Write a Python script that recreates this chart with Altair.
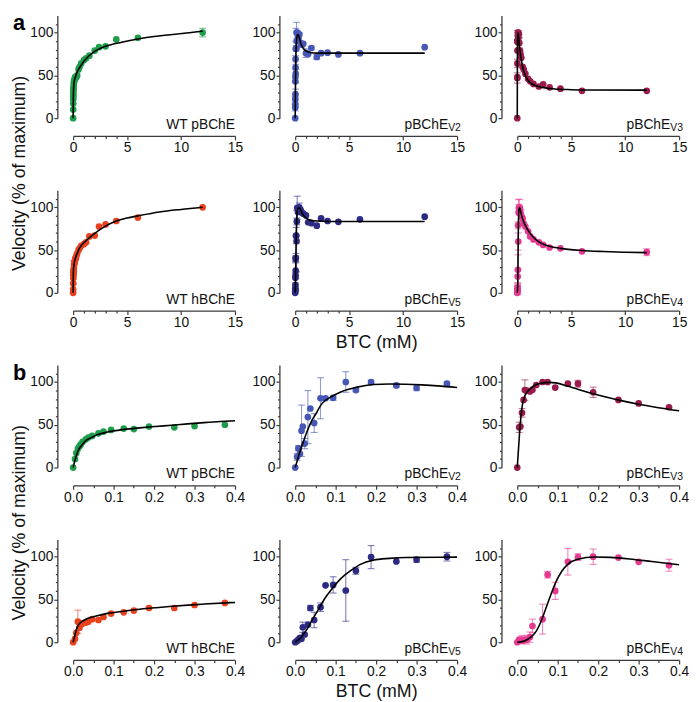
import altair as alt
import pandas as pd

FONT = "Liberation Sans"
W, H = 164, 104

# ---------------- substrate concentrations (mM) ----------------
CONC_LOW = [0, 0.0047, 0.0078, 0.0117, 0.0156, 0.0188, 0.0234, 0.0313, 0.0375, 0.0469,
            0.0625, 0.075, 0.0938, 0.125, 0.15, 0.1875, 0.25, 0.3, 0.375]
CONC_HIGH = [0.5, 0.6, 0.75, 1.0, 1.2, 1.5, 2.0, 2.4, 3.0, 4.0, 6.0, 12.0]

# ---------------- velocities (% of maximum) ----------------
WTP_LOW = [0, 10, 17, 22, 25, 27, 30, 33, 35, 37, 40, 42, 44, 45.5, 45, 48, 47, 48.5, 50]
WTP_LOW_ERR = [0] * 19
WTP_HIGH = [57, 60, 64, 68, 70, 73, 79, 83, 84, 92, 94, 100]
WTP_HIGH_ERR = [0, 0, 0, 0, 0, 0, 0, 0, 0, 0, 0, 5]

V2_LOW = [0, 12.5, 22.5, 16, 43, 48, 28, 59, 69, 52, 81, 81, 81.5, 100, 90.5, 100, 96, 93, 98]
V2_LOW_ERR = [0, 4, 3, 0, 30, 0, 6, 31, 0, 11, 24, 0, 3, 12, 2, 2, 2, 3, 2]
V2_HIGH = [88, 86, 87, 76, 75, 82, 71.5, 76, 76.5, 74.5, 76, 83]
V2_HIGH_ERR = [0, 3, 0, 5, 0, 2, 3, 0, 0, 0, 0, 0]

V3_LOW = [0, 47, 48, 64, 79, 90.5, 90, 89, 91, 96.5, 100, 100, 93.5, 98, 98, 88, 79, 75, 70.5]
V3_LOW_ERR = [0, 6, 0, 5, 0, 12, 0, 0, 0, 0, 0, 0, 0, 0, 4, 6, 0, 0, 0]
V3_HIGH = [60, 57, 52, 46, 43, 40, 37, 39.5, 36, 34.5, 32, 32]
V3_HIGH_ERR = [0] * 12

WTH_LOW = [0, 4, 11, 24, 17, 20.5, 22, 23, 24, 27, 26, 29.5, 33.5, 35, 37, 40, 40, 43.5, 46]
WTH_LOW_ERR = [0, 0, 0, 13.5, 0, 0, 0, 0, 0, 0, 0, 0, 0, 0, 0, 0, 0, 0, 0]
WTH_HIGH = [50, 52, 55, 57, 59, 66, 67, 77.5, 80, 84, 88, 100]
WTH_HIGH_ERR = [0] * 12

V5_LOW = [0, 1.5, 3, 5, 4, 17.5, 9, 20.5, 40, 26, 41, 66.5, 67, 60.5, 83.5, 99.5, 94.5, 96.5, 100]
V5_LOW_ERR = [0, 0, 0, 0, 0, 6, 0, 0, 3, 9, 5, 0, 9.5, 36, 4, 13.5, 0, 3, 5]
V5_HIGH = [97, 94, 92.5, 90.5, 82.5, 81.5, 78.5, 87, 84, 83, 86, 89]
V5_HIGH_ERR = [0] * 12

V4_LOW = [0, 3, 2, 3, 2, 3, 3, 6, 19, None, 27, 79, 60, 94, 99.5, 100, 99, 94, 90]
V4_LOW_ERR = [0, 0, 0, 5, 0, 0, 5, 6, 8, 0, 17.5, 4, 10, 15.5, 4, 9, 0, 0, 7]
V4_HIGH = [87, 81, 77.5, 72, 66, 62.5, 59, 56, 53, 52, 48.5, 47.5]
V4_HIGH_ERR = [0, 0, 0, 0, 0, 0, 0, 0, 0, 0, 0, 4]

# ---------------- fitted curves ----------------
CX_WTP_LOW = [0, 0.004, 0.0087, 0.015, 0.023, 0.033, 0.045, 0.061, 0.085, 0.125, 0.164, 0.204, 0.244, 0.283, 0.323, 0.4]
CY_WTP_LOW = [0, 7.5, 15, 22, 27, 32, 35, 38.5, 41.5, 44.5, 46.4, 48, 49.4, 51, 52.5, 54.7]
CX_WTP_HIGH = [0.8, 1.4, 2.0, 3.0, 4.6, 6.0, 7.5, 9.0, 10.5, 12.0]
CY_WTP_HIGH = [63, 72, 78, 84, 89, 92.5, 95.5, 97.5, 99.5, 102]

CX_V2_LOW = [0, 0.005, 0.01, 0.02, 0.03, 0.04, 0.05, 0.066, 0.09, 0.114, 0.153, 0.193, 0.233, 0.273, 0.313, 0.352, 0.4]
CY_V2_LOW = [0, 8, 16, 30, 43, 54, 62, 74.7, 83, 88.7, 94, 97, 97.7, 97.4, 96.6, 95.5, 93.6]
CX_V2_HIGH = [0.5, 0.6, 0.75, 1.0, 1.5, 2.0, 3.0, 12.0]
CY_V2_HIGH = [88, 85, 81.5, 78.5, 76.5, 76, 76, 76]

CX_V3_LOW = [0, 0.0056, 0.011, 0.019, 0.031, 0.047, 0.063, 0.079, 0.095, 0.126, 0.174, 0.214, 0.254, 0.3, 0.349, 0.4]
CY_V3_LOW = [0, 40, 68, 84, 91.5, 97, 99, 99.6, 99, 95, 88, 83, 78.5, 74, 70, 66.4]
CX_V3_HIGH = [0.5, 0.65, 0.8, 0.95, 1.2, 1.4, 1.8, 2.3, 3.5, 5.0, 6.4, 12.0]
CY_V3_HIGH = [60, 53, 48.5, 45, 41.5, 39.6, 37.5, 36, 34, 33.3, 33, 32.8]

CX_WTH_LOW = [0, 0.004, 0.008, 0.0135, 0.0215, 0.037, 0.057, 0.085, 0.125, 0.165, 0.205, 0.245, 0.284, 0.324, 0.4]
CY_WTH_LOW = [0, 7.5, 15, 20.6, 24, 28, 30.7, 33.7, 36.3, 38.6, 40.4, 42, 43.4, 44.6, 46.5]
CX_WTH_HIGH = [0.5, 0.8, 1.2, 1.6, 2.0, 3.0, 4.0, 5.0, 6.0, 8.0, 10.0, 12.0]
CY_WTH_HIGH = [50, 56, 61, 65.5, 69.5, 78, 84, 87.5, 90, 94.5, 97.5, 100]

CX_V5_LOW = [0, 0.014, 0.026, 0.042, 0.058, 0.074, 0.09, 0.114, 0.138, 0.161, 0.193, 0.233, 0.273, 0.4]
CY_V5_LOW = [0, 5.6, 13, 26, 39, 51.7, 62, 75, 84, 91, 96, 98, 99, 99.5]
CX_V5_HIGH = [0.6, 0.8, 1.0, 1.3, 1.7, 2.5, 4.0, 12.0]
CY_V5_HIGH = [94, 90, 87.5, 85.5, 84.3, 83.7, 83.5, 83.5]

CX_V4_LOW = [0, 0.015, 0.031, 0.047, 0.059, 0.071, 0.083, 0.095, 0.11, 0.126, 0.15, 0.19, 0.23, 0.278, 0.333, 0.4]
CY_V4_LOW = [0, 1, 5, 13, 24.5, 40, 55.5, 70, 83, 91.7, 97, 99.6, 99.2, 97.4, 94.3, 90.6]
CX_V4_HIGH = [0.6, 0.8, 1.0, 1.5, 2.0, 3.0, 4.0, 6.0, 8.0, 10.0, 12.0]
CY_V4_HIGH = [83, 77.5, 73, 65, 59.5, 54.5, 52, 49.5, 48.3, 47.5, 47]

COL_WTP = "#1f9d4a"
COL_V2 = "#4657b6"
COL_V3 = "#9a1a4e"
COL_WTH = "#e8411d"
COL_V5 = "#2c2a82"
COL_V4 = "#e63a92"

AXIS_COMMON = dict(
    domainColor="#3a3a3a", domainWidth=1.3, tickColor="#3a3a3a", tickWidth=1.2,
    labelColor="#111111", labelFont=FONT, labelFontSize=14, labelPadding=1,
    grid=False, labelFlush=False, labelOverlap=False,
)


def x_encoding(xmax, xtitle):
    if xmax > 1:
        vals = [0, 1, 2, 3, 4, 5, 10, 15]
        test = "datum.value % 5 != 0"
        fmt = "d"
    else:
        vals = [0, 0.05, 0.1, 0.15, 0.2, 0.25, 0.3, 0.35, 0.4]
        test = "round(datum.value * 100) % 10 != 0"
        fmt = ".1f"
    kw = dict(AXIS_COMMON)
    kw.update(values=vals, format=fmt,
              labelExpr="(" + test + ") ? '' : datum.label",
              tickSize={"condition": {"test": test, "value": 2.5}, "value": 4},
              offset=18)
    if xtitle:
        kw.update(title=xtitle, titleFont=FONT, titleFontSize=18, titleFontWeight="normal",
                  titleColor="#111111", titlePadding=4)
    else:
        kw.update(title=None)
    return alt.X("x:Q", scale=alt.Scale(domain=[0, xmax], nice=False), axis=alt.Axis(**kw))


def y_encoding(field="y"):
    kw = dict(AXIS_COMMON)
    kw.update(values=list(range(0, 111, 10)),
              labelExpr="datum.value % 50 == 0 ? datum.label : ''",
              tickSize={"condition": {"test": "datum.value % 50 != 0", "value": 2}, "value": 3.5},
              offset=16, title=None)
    return alt.Y(field + ":Q", scale=alt.Scale(domain=[0, 120], nice=False), axis=alt.Axis(**kw))


def panel(xs, ys, es, cx, cy, color, main, sub, xmax, xtitle="", section=""):
    df = pd.DataFrame({"x": xs, "y": ys, "e": es}).dropna()
    df["lo"] = df["y"] - df["e"]
    df["hi"] = df["y"] + df["e"]
    dfe = df[df["e"] > 0]
    cdf = pd.DataFrame({"x": cx, "y": cy})
    xe = x_encoding(xmax, xtitle)

    layers = []
    if len(dfe):
        layers.append(alt.Chart(dfe).mark_rule(color=color, opacity=0.6, strokeWidth=1.1).encode(
            x=xe, y=y_encoding("lo"), y2="hi:Q"))
        for f in ("lo", "hi"):
            layers.append(alt.Chart(dfe).mark_tick(color=color, opacity=0.6, orient="horizontal",
                                                   size=7, thickness=1.1).encode(
                x=xe, y=y_encoding(f)))
    layers.append(alt.Chart(df).mark_circle(color=color, opacity=1, size=46).encode(
        x=xe, y=y_encoding()))
    layers.append(alt.Chart(cdf).mark_line(color="black", strokeWidth=1.6, interpolate="monotone").encode(
        x=xe, y=y_encoding()))

    if sub:
        layers.append(alt.Chart(pd.DataFrame({"t": [main]})).mark_text(
            font=FONT, fontSize=14, align="right", baseline="alphabetic", color="#111111").encode(
            x=alt.value(W - 9), y=alt.value(H + 11), text="t:N"))
        layers.append(alt.Chart(pd.DataFrame({"t": [sub]})).mark_text(
            font=FONT, fontSize=10.5, align="left", baseline="alphabetic", color="#111111").encode(
            x=alt.value(W - 9), y=alt.value(H + 13), text="t:N"))
    else:
        layers.append(alt.Chart(pd.DataFrame({"t": [main]})).mark_text(
            font=FONT, fontSize=14, align="right", baseline="alphabetic", color="#111111").encode(
            x=alt.value(W), y=alt.value(H + 11), text="t:N"))

    if section:
        layers.append(alt.Chart(pd.DataFrame({"t": [section]})).mark_text(
            font=FONT, fontSize=22, fontWeight="bold", align="left", baseline="top",
            color="#000000").encode(x=alt.value(-61), y=alt.value(-2), text="t:N"))
        layers.append(alt.Chart(pd.DataFrame({"t": ["Velocity (% of maximum)"]})).mark_text(
            font=FONT, fontSize=18, align="center", baseline="alphabetic", angle=270,
            color="#111111").encode(x=alt.value(-48.5), y=alt.value(160), text="t:N"))

    return alt.layer(*layers).properties(width=W, height=H)


a1 = panel(CONC_LOW + CONC_HIGH, WTP_LOW + WTP_HIGH, WTP_LOW_ERR + WTP_HIGH_ERR,
           CX_WTP_LOW + CX_WTP_HIGH, CY_WTP_LOW + CY_WTP_HIGH, COL_WTP, "WT pBChE", "", 15, section="a")
a2 = panel(CONC_LOW + CONC_HIGH, V2_LOW + V2_HIGH, V2_LOW_ERR + V2_HIGH_ERR,
           CX_V2_LOW + CX_V2_HIGH, CY_V2_LOW + CY_V2_HIGH, COL_V2, "pBChE", "V2", 15)
a3 = panel(CONC_LOW + CONC_HIGH, V3_LOW + V3_HIGH, V3_LOW_ERR + V3_HIGH_ERR,
           CX_V3_LOW + CX_V3_HIGH, CY_V3_LOW + CY_V3_HIGH, COL_V3, "pBChE", "V3", 15)
a4 = panel(CONC_LOW + CONC_HIGH, WTH_LOW + WTH_HIGH, WTH_LOW_ERR + WTH_HIGH_ERR,
           CX_WTH_LOW + CX_WTH_HIGH, CY_WTH_LOW + CY_WTH_HIGH, COL_WTH, "WT hBChE", "", 15)
a5 = panel(CONC_LOW + CONC_HIGH, V5_LOW + V5_HIGH, V5_LOW_ERR + V5_HIGH_ERR,
           CX_V5_LOW + CX_V5_HIGH, CY_V5_LOW + CY_V5_HIGH, COL_V5, "pBChE", "V5", 15, xtitle="BTC (mM)")
a6 = panel(CONC_LOW + CONC_HIGH, V4_LOW + V4_HIGH, V4_LOW_ERR + V4_HIGH_ERR,
           CX_V4_LOW + CX_V4_HIGH, CY_V4_LOW + CY_V4_HIGH, COL_V4, "pBChE", "V4", 15)

b1 = panel(CONC_LOW, WTP_LOW, WTP_LOW_ERR, CX_WTP_LOW, CY_WTP_LOW, COL_WTP, "WT pBChE", "", 0.4, section="b")
b2 = panel(CONC_LOW, V2_LOW, V2_LOW_ERR, CX_V2_LOW, CY_V2_LOW, COL_V2, "pBChE", "V2", 0.4)
b3 = panel(CONC_LOW, V3_LOW, V3_LOW_ERR, CX_V3_LOW, CY_V3_LOW, COL_V3, "pBChE", "V3", 0.4)
b4 = panel(CONC_LOW, WTH_LOW, WTH_LOW_ERR, CX_WTH_LOW, CY_WTH_LOW, COL_WTH, "WT hBChE", "", 0.4)
b5 = panel(CONC_LOW, V5_LOW, V5_LOW_ERR, CX_V5_LOW, CY_V5_LOW, COL_V5, "pBChE", "V5", 0.4, xtitle="BTC (mM)")
b6 = panel(CONC_LOW, V4_LOW, V4_LOW_ERR, CX_V4_LOW, CY_V4_LOW, COL_V4, "pBChE", "V4", 0.4)

chart = alt.concat(
    a1, a2, a3, a4, a5, a6, b1, b2, b3, b4, b5, b6,
    columns=3, spacing={"row": 73, "column": 61}, bounds="flush"
).properties(
    padding={"left": 3, "top": 0, "right": 0, "bottom": 0}, background="white"
).configure_view(stroke=None)

chart.save("out.html", embed_options={"renderer": "svg", "actions": False})
